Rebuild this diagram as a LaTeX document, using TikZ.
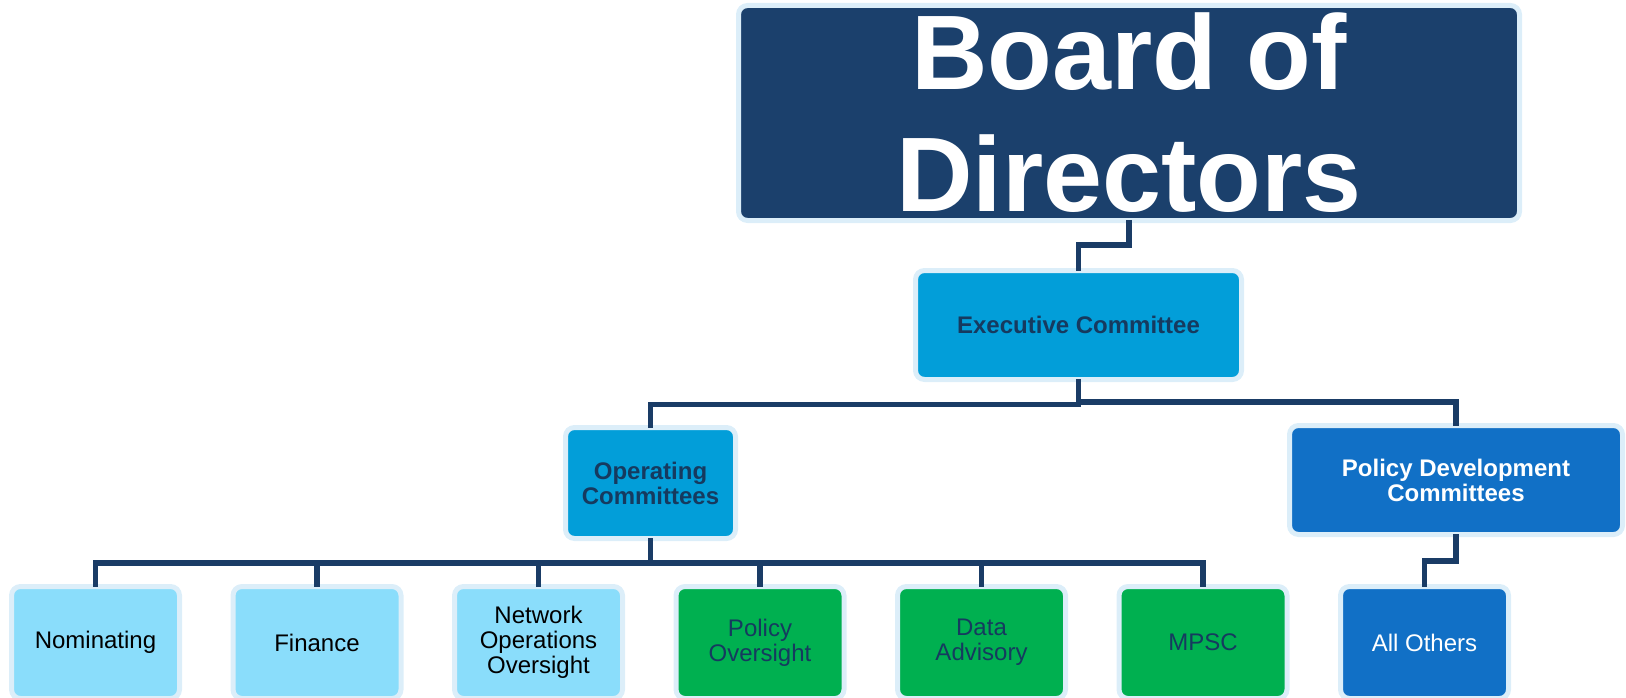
\documentclass[tikz,border=0pt]{standalone}
\usepackage{fontspec}
\setmainfont{Liberation Sans}
\definecolor{glow}{HTML}{DCEEF9}
\definecolor{navy}{HTML}{1B406C}
\definecolor{linec}{HTML}{1A3C66}
\definecolor{cyanbox}{HTML}{029ED9}
\definecolor{bluebox}{HTML}{1170C6}
\definecolor{lightbox}{HTML}{8ADDFB}
\definecolor{greenbox}{HTML}{00B050}
\definecolor{darktext}{HTML}{163A5F}
\tikzset{
  box/.style={draw=glow, line width=5pt, rounded corners=9pt, inner sep=0pt, align=center,
    font=\fontsize{24}{25}\selectfont},
  boldbox/.style={box, font=\fontsize{24}{25}\selectfont\bfseries},
  conn/.style={draw=linec, line width=5.5pt, line join=miter, line cap=rect},
}
\begin{document}
\begin{tikzpicture}[x=1pt, y=-1pt]
\useasboundingbox (0,0) rectangle (1626,698);
\node[box, fill=navy, text=white, minimum width=781pt, minimum height=215pt,
  font=\fontsize{106}{122}\selectfont\bfseries] (board) at (1129,113) {Board of\\Directors};
\node[boldbox, fill=cyanbox, text=darktext, minimum width=326pt, minimum height=109pt] (exec) at (1078.5,325) {Executive Committee};
\node[boldbox, fill=cyanbox, text=darktext, minimum width=170pt, minimum height=111pt] (oper) at (650.5,483) {Operating\\Committees};
\node[boldbox, fill=bluebox, text=white, minimum width=333pt, minimum height=109pt] (pdc) at (1456,480) {Policy Development\\Committees};
\foreach \nm/\x/\fc/\tc/\txt in {
  nom/95.5/lightbox/black/Nominating,
  fin/317/lightbox/black/Finance,
  net/538.5/lightbox/black/{Network\\Operations\\Oversight},
  pol/760/greenbox/darktext/{Policy\\Oversight},
  dat/981.5/greenbox/darktext/{Data\\Advisory},
  mpsc/1203/greenbox/darktext/MPSC,
  all/1424.5/bluebox/white/{All Others}}{
  \node[box, fill=\fc, text=\tc, minimum width=168pt, minimum height=112pt] (\nm) at (\x,642.5) {\txt};
}
\draw[conn] (board.south) -- ++(0,22) -| (exec.north);
\draw[conn] (exec.south) -- ++(0,22.5) coordinate (splitL);
\coordinate (splitR) at ([yshift=-20pt]exec.south);
\draw[conn] (splitL) -| (oper.north);
\draw[conn] (splitR) -| (pdc.north);
\draw[conn] (oper.south) -- ++(0,22) coordinate (bus);
\foreach \nm in {nom,fin,net,pol,dat,mpsc}{
  \draw[conn] (bus) -| (\nm.north);
}
\draw[conn] (pdc.south) -- ++(0,24) -| (all.north);
\end{tikzpicture}
\end{document}
